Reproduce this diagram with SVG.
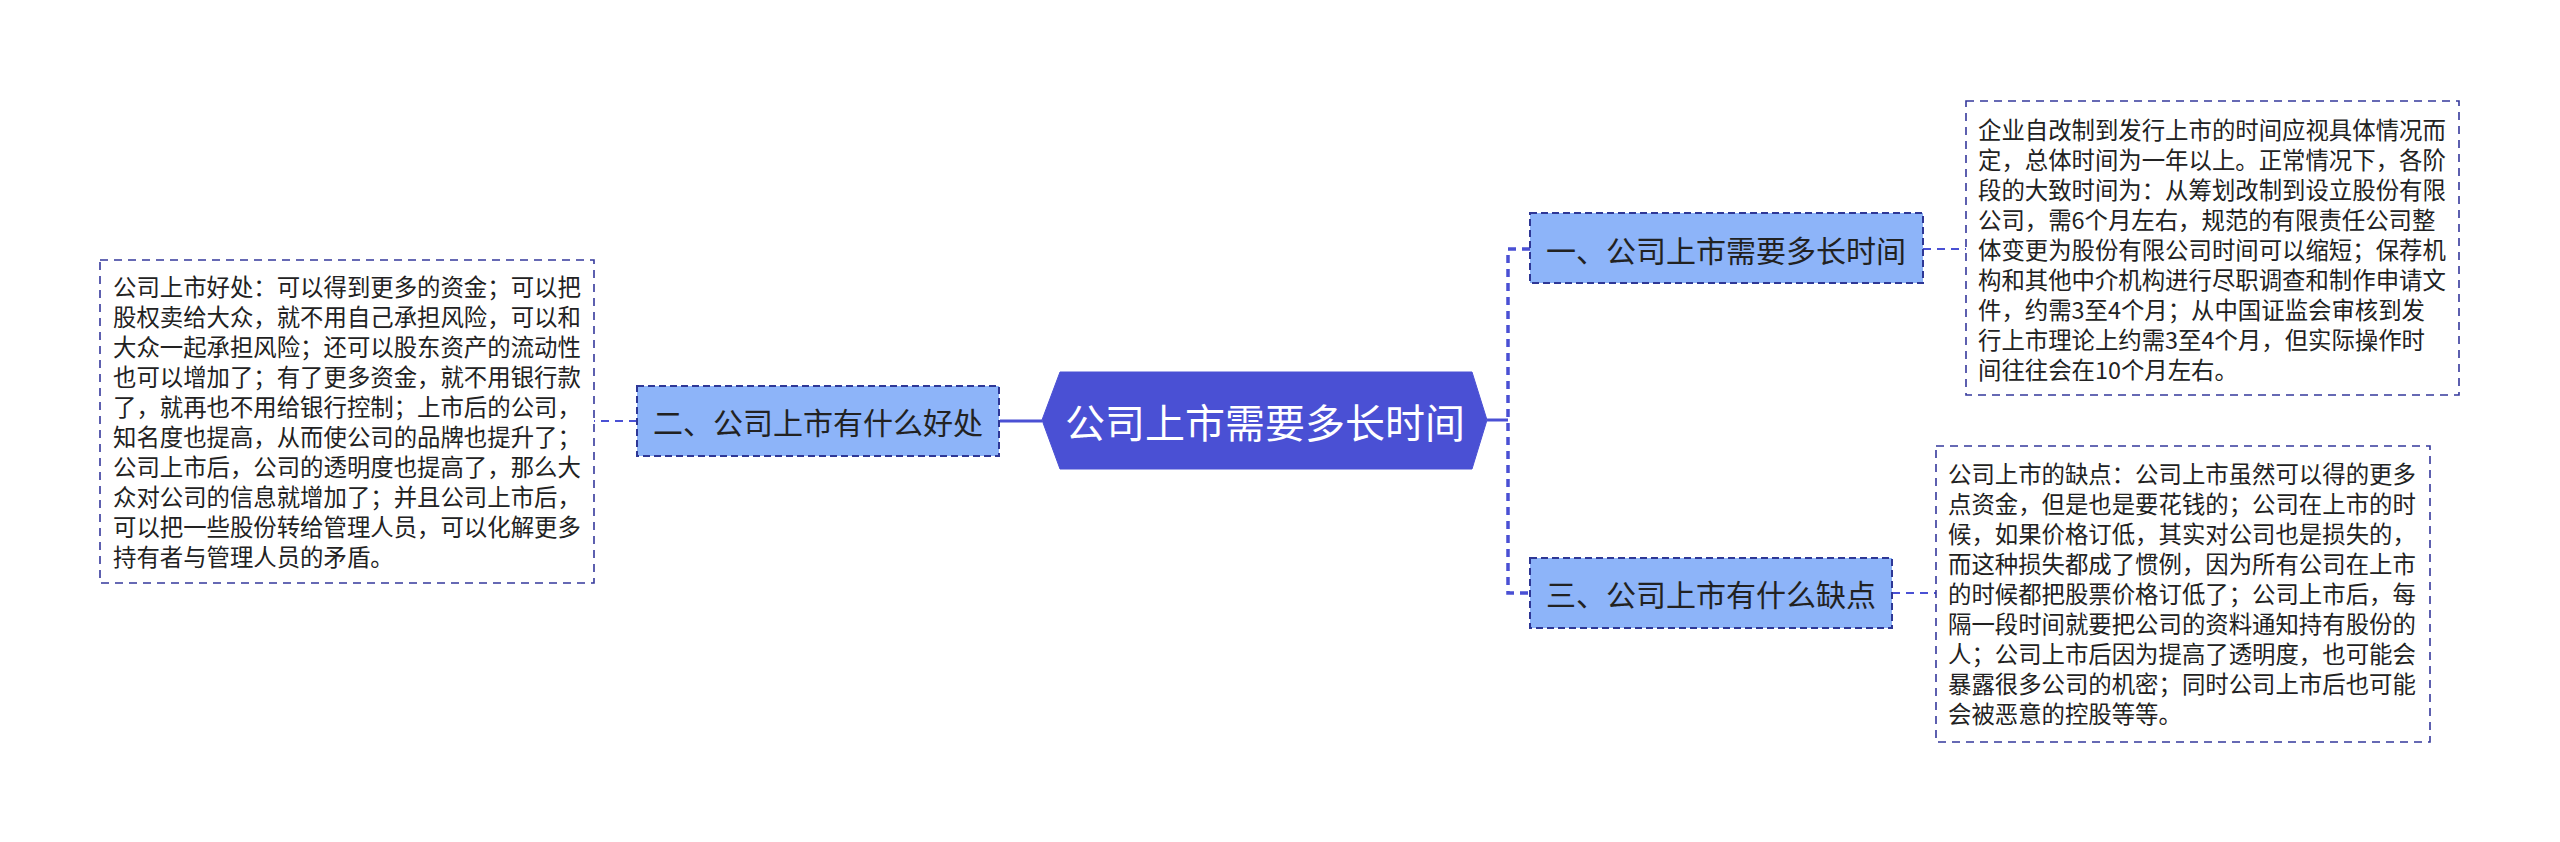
<svg xmlns="http://www.w3.org/2000/svg" width="2560" height="842" viewBox="0 0 2560 842">
<style>
.txt{font-family:"Noto Sans CJK SC","Noto Sans",sans-serif;fill:#222;}
.body{font-size:23.4px;}
.sub{font-size:30px;text-anchor:middle;}
.root{font-size:40px;text-anchor:middle;fill:#fff;}
.card{fill:#fff;stroke:#35399c;stroke-width:1.6;stroke-dasharray:8 6;}
.topic{fill:#8db4f9;stroke:#2e3796;stroke-width:2;stroke-dasharray:7 4;}
.link{fill:none;stroke:#4a50d4;stroke-width:2;stroke-dasharray:8 6;}
.trunk{fill:none;stroke:#4a50d4;stroke-width:3.5;stroke-dasharray:8 6;}
.solid{fill:none;stroke:#4a50d4;stroke-width:3;}
</style>
<rect width="2560" height="842" fill="#fff"/>
<g id="connectors">
<line class="solid" x1="1000" y1="421" x2="1042" y2="421"/>
<line class="solid" x1="1487" y1="420" x2="1508" y2="420"/>
<path class="trunk" d="M1530 249 H1508 V593 H1530"/>
<line class="link" x1="637" y1="421" x2="594" y2="421"/>
<line class="link" x1="1923" y1="249" x2="1966" y2="249"/>
<line class="link" x1="1892" y1="593" x2="1936" y2="593"/>
</g>
<g id="root">
<polygon points="1042,420 1060,372 1472,372 1487,420 1472,469 1060,469" fill="#4a50d4" stroke="#4a50d4" stroke-width="1"/>
<text class="txt root" x="1265" y="421" dominant-baseline="central">公司上市需要多长时间</text>
</g>
<g id="node-1">
<rect class="topic" x="1530" y="213" width="393" height="70"/>
<text class="txt sub" x="1726" y="249" dominant-baseline="central">一、公司上市需要多长时间</text>
</g>
<g id="node-2">
<rect class="topic" x="637" y="386" width="362" height="70"/>
<text class="txt sub" x="818" y="421" dominant-baseline="central">二、公司上市有什么好处</text>
</g>
<g id="node-3">
<rect class="topic" x="1530" y="558" width="362" height="70"/>
<text class="txt sub" x="1711" y="593" dominant-baseline="central">三、公司上市有什么缺点</text>
</g>
<g id="detail-1">
<rect class="card" x="1966" y="101" width="493" height="294"/>
<g class="txt body">
<text x="1978" y="129" dominant-baseline="central">企业自改制到发行上市的时间应视具体情况而</text>
<text x="1978" y="159" dominant-baseline="central">定，总体时间为一年以上。正常情况下，各阶</text>
<text x="1978" y="189" dominant-baseline="central">段的大致时间为：从筹划改制到设立股份有限</text>
<text x="1978" y="219" dominant-baseline="central">公司，需6个月左右，规范的有限责任公司整</text>
<text x="1978" y="249" dominant-baseline="central">体变更为股份有限公司时间可以缩短；保荐机</text>
<text x="1978" y="279" dominant-baseline="central">构和其他中介机构进行尽职调查和制作申请文</text>
<text x="1978" y="309" dominant-baseline="central">件，约需3至4个月；从中国证监会审核到发</text>
<text x="1978" y="339" dominant-baseline="central">行上市理论上约需3至4个月，但实际操作时</text>
<text x="1978" y="369" dominant-baseline="central">间往往会在10个月左右。</text>
</g>
</g>
<g id="detail-2">
<rect class="card" x="100" y="260" width="494" height="323"/>
<g class="txt body">
<text x="113" y="286" dominant-baseline="central">公司上市好处：可以得到更多的资金；可以把</text>
<text x="113" y="316" dominant-baseline="central">股权卖给大众，就不用自己承担风险，可以和</text>
<text x="113" y="346" dominant-baseline="central">大众一起承担风险；还可以股东资产的流动性</text>
<text x="113" y="376" dominant-baseline="central">也可以增加了；有了更多资金，就不用银行款</text>
<text x="113" y="406" dominant-baseline="central">了，就再也不用给银行控制；上市后的公司，</text>
<text x="113" y="436" dominant-baseline="central">知名度也提高，从而使公司的品牌也提升了；</text>
<text x="113" y="466" dominant-baseline="central">公司上市后，公司的透明度也提高了，那么大</text>
<text x="113" y="496" dominant-baseline="central">众对公司的信息就增加了；并且公司上市后，</text>
<text x="113" y="526" dominant-baseline="central">可以把一些股份转给管理人员，可以化解更多</text>
<text x="113" y="556" dominant-baseline="central">持有者与管理人员的矛盾。</text>
</g>
</g>
<g id="detail-3">
<rect class="card" x="1936" y="446" width="494" height="296"/>
<g class="txt body">
<text x="1948" y="473" dominant-baseline="central">公司上市的缺点：公司上市虽然可以得的更多</text>
<text x="1948" y="503" dominant-baseline="central">点资金，但是也是要花钱的；公司在上市的时</text>
<text x="1948" y="533" dominant-baseline="central">候，如果价格订低，其实对公司也是损失的，</text>
<text x="1948" y="563" dominant-baseline="central">而这种损失都成了惯例，因为所有公司在上市</text>
<text x="1948" y="593" dominant-baseline="central">的时候都把股票价格订低了；公司上市后，每</text>
<text x="1948" y="623" dominant-baseline="central">隔一段时间就要把公司的资料通知持有股份的</text>
<text x="1948" y="653" dominant-baseline="central">人；公司上市后因为提高了透明度，也可能会</text>
<text x="1948" y="683" dominant-baseline="central">暴露很多公司的机密；同时公司上市后也可能</text>
<text x="1948" y="713" dominant-baseline="central">会被恶意的控股等等。</text>
</g>
</g>
</svg>
